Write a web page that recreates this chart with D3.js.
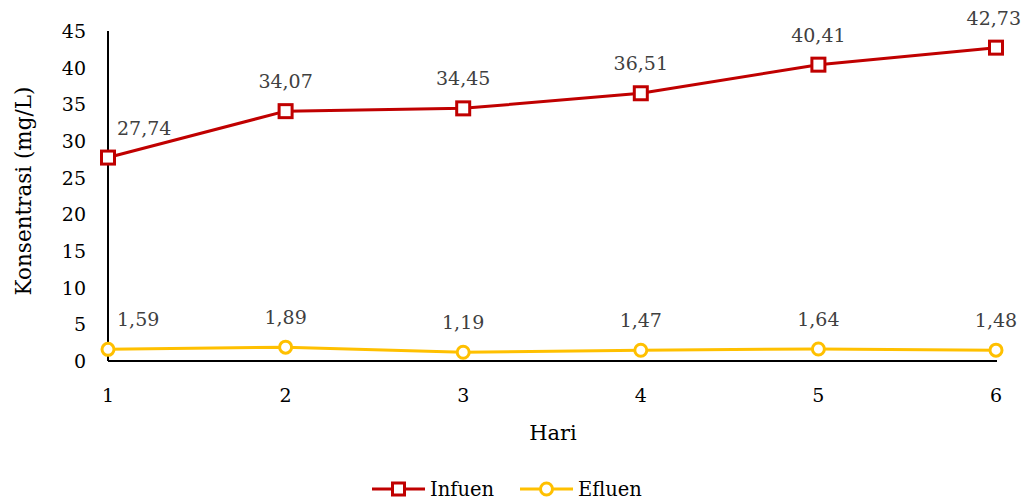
<!DOCTYPE html>
<html><head><meta charset="utf-8">
<script src="https://cdn.jsdelivr.net/npm/d3@7"></script>
<style>body{margin:0;background:#fff}svg{display:block}text{font-family:"DejaVu Serif",serif}</style>
</head><body><svg id="c" width="1028" height="502"></svg>
<script>
const days = ["1","2","3","4","5","6"];
const infuen = [27.74, 34.07, 34.45, 36.51, 40.41, 42.73];
const efluen = [1.59, 1.89, 1.19, 1.47, 1.64, 1.48];
const yTicks = [0,5,10,15,20,25,30,35,40,45];
const seriesNames = ["Infuen","Efluen"];
const colors = ["#C00000","#FFC000"];

const svg = d3.select("#c");
const L=108,R=996,T=31,B=361;
const x = d3.scalePoint().domain(days).range([L,R]).padding(0);
const y = d3.scaleLinear().domain([0,45]).range([B,T]);

// axes
svg.append("line").attr("x1",L).attr("x2",L).attr("y1",T).attr("y2",B).attr("stroke","#000").attr("stroke-width",2);
svg.append("line").attr("x1",L).attr("x2",R+1).attr("y1",B).attr("y2",B).attr("stroke","#000").attr("stroke-width",2);
svg.selectAll(".yt").data(yTicks).enter().append("text").attr("x",86).attr("y",d=>y(d)+7)
  .attr("text-anchor","end").attr("font-size",19).attr("fill","#000").text(d=>d);
svg.selectAll(".xt").data(days).enter().append("text").attr("x",d=>x(d)).attr("y",402)
  .attr("text-anchor","middle").attr("font-size",19).attr("fill","#000").text(d=>d);
svg.append("text").attr("x",553).attr("y",440).attr("text-anchor","middle").attr("font-size",21).text("Hari");
svg.append("text").attr("transform","translate(31,191) rotate(-90)").attr("text-anchor","middle").attr("font-size",21.5).text("Konsentrasi (mg/L)");

const fmt = v => v.toFixed(2).replace(".",",");
function drawSeries(vals, color, marker){
  const line = d3.line().x((d,i)=>x(days[i])).y(d=>y(d));
  svg.append("path").datum(vals).attr("d",line).attr("fill","none").attr("stroke",color).attr("stroke-width",3).attr("stroke-linejoin","round");
  vals.forEach((v,i)=>{
    const cx=x(days[i]), cy=y(v);
    if(marker==="sq") svg.append("rect").attr("x",cx-6.5).attr("y",cy-6.5).attr("width",13).attr("height",13).attr("fill","#fff").attr("stroke",color).attr("stroke-width",3);
    else svg.append("circle").attr("cx",cx).attr("cy",cy).attr("r",6).attr("fill","#fff").attr("stroke",color).attr("stroke-width",3);
    const t = svg.append("text").attr("y",cy-23).attr("font-size",19).attr("fill","#404040").attr("text-anchor","start").text(fmt(v));
    const w = t.node().getComputedTextLength();
    let lx = cx - w/2;
    lx = Math.max(117, Math.min(1021-w, lx));
    t.attr("x",lx);
  });
}
drawSeries(infuen, colors[0], "sq");
drawSeries(efluen, colors[1], "ci");

// legend
const ly=489;
const lg=[{n:seriesNames[0],c:colors[0],m:"sq",x0:372},{n:seriesNames[1],c:colors[1],m:"ci",x0:520}];
lg.forEach(l=>{
  svg.append("line").attr("x1",l.x0).attr("x2",l.x0+53).attr("y1",ly).attr("y2",ly).attr("stroke",l.c).attr("stroke-width",3);
  const cx=l.x0+26.5;
  if(l.m==="sq") svg.append("rect").attr("x",cx-6).attr("y",ly-6).attr("width",12).attr("height",12).attr("fill","#fff").attr("stroke",l.c).attr("stroke-width",3);
  else svg.append("circle").attr("cx",cx).attr("cy",ly).attr("r",6).attr("fill","#fff").attr("stroke",l.c).attr("stroke-width",3);
  svg.append("text").attr("x",l.x0+58).attr("y",ly+7).attr("font-size",19.5).attr("fill","#000").text(l.n);
});
</script></body></html>
